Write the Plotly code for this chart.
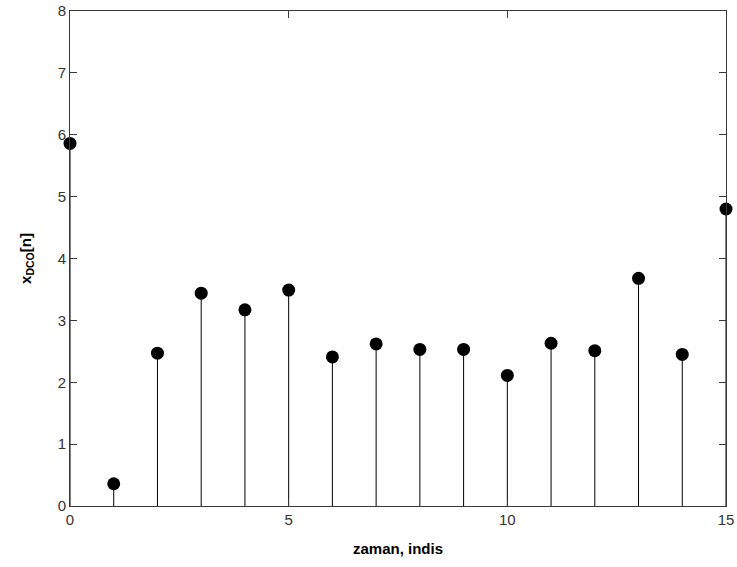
import plotly.graph_objects as go

# Sample index and the DC-offset sequence values
n = list(range(16))
x_dco = [5.86, 0.36, 2.47, 3.44, 3.17, 3.49, 2.41, 2.62,
         2.53, 2.53, 2.11, 2.63, 2.51, 3.68, 2.45, 4.80]

x_ticks = [0, 5, 10, 15]
y_ticks = [0, 1, 2, 3, 4, 5, 6, 7, 8]

# Build stem segments from the baseline to each value
stem_x, stem_y = [], []
for xi, yi in zip(n, x_dco):
    stem_x += [xi, xi, None]
    stem_y += [0, yi, None]

fig = go.Figure()
fig.add_trace(go.Scatter(
    x=stem_x, y=stem_y, mode="lines",
    line=dict(color="black", width=1),
    hoverinfo="skip", showlegend=False,
))
fig.add_trace(go.Scatter(
    x=n, y=x_dco, mode="markers",
    marker=dict(color="black", size=13, symbol="circle"),
    cliponaxis=False, showlegend=False,
))

axis_common = dict(
    showgrid=False, zeroline=False, automargin=False,
    showline=True, linecolor="#3a3a3a", linewidth=1, mirror="ticks",
    ticks="inside", ticklen=7, tickcolor="#3a3a3a", tickwidth=1,
    tickfont=dict(family="Liberation Sans, Arial", size=15, color="#333"),
)

fig.update_xaxes(
    range=[0, 15], tickvals=x_ticks, ticktext=[str(t) for t in x_ticks],
    title=dict(text="<b>zaman, indis</b>", standoff=16,
               font=dict(family="Liberation Sans, Arial", size=15, color="black")),
    **axis_common,
)
fig.update_yaxes(
    range=[0, 8], tickvals=y_ticks, ticktext=[str(t) for t in y_ticks],
    title=dict(text="<b>x<sub>DCO</sub>[n]</b>", standoff=22,
               font=dict(family="Liberation Sans, Arial", size=15, color="black")),
    **axis_common,
)

fig.update_layout(
    width=737, height=567,
    margin=dict(l=70, r=11, t=11, b=61),
    paper_bgcolor="white", plot_bgcolor="white",
)

fig.write_html("out.html")
